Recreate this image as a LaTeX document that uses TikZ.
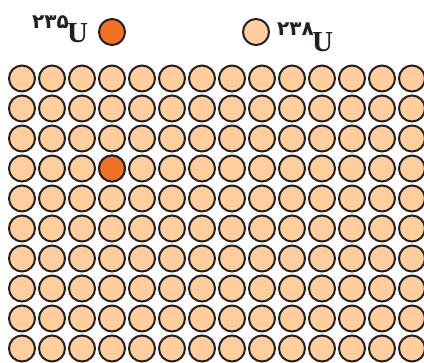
\documentclass[tikz,border=0pt]{standalone}
\usepackage{fontspec}
\newfontfamily\persdigits[Script=Arabic]{DejaVu Sans}
\newfontfamily\userif{Liberation Serif}
\definecolor{peach}{HTML}{FFCE9C}
\definecolor{uorange}{HTML}{F37124}
\definecolor{rim}{HTML}{231F20}
\tikzset{
  atom/.style={circle, draw=rim, line width=2pt, minimum size=26pt, inner sep=0pt, fill=peach},
  atomhot/.style={atom, fill=uorange},
  sup/.style={inner sep=0pt, font=\persdigits\bfseries\fontsize{20}{20}\selectfont, text=rim},
  elem/.style={inner sep=0pt, font=\userif\bfseries\fontsize{29}{29}\selectfont, text=rim}
}
\begin{document}
\begin{tikzpicture}[x=1pt,y=-1pt]
\useasboundingbox (0,0) rectangle (424,363);
% legend
\node[sup, anchor=south west] (s235) at (32,29) {۲۳۵};
\node[elem, anchor=base west] (u235) at (67,43) {U};
\node[atomhot] (l235) at (112,32) {};
\node[atom] (l238) at (256,32) {};
\node[sup, anchor=south west] (s238) at (277,36) {۲۳۸};
\node[elem, anchor=base west] (u238) at (312,52) {U};
% grid
\foreach \r in {0,...,9}{
  \foreach \c in {0,...,13}{
    \node[atom] (g-\r-\c) at ({22+30*\c},{78.5+30*\r}) {};
  }
}
\node[atomhot] (g-3-3) at (112,168.5) {};
\end{tikzpicture}
\end{document}
